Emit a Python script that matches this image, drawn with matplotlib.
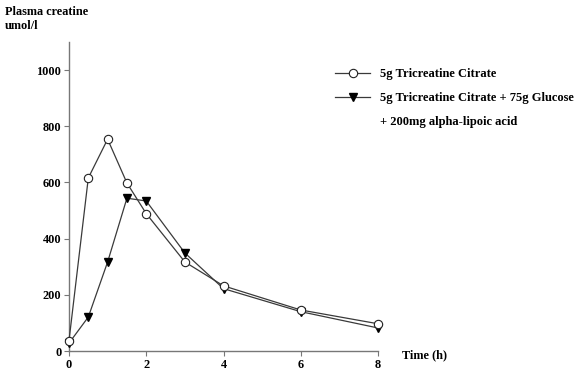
import matplotlib
matplotlib.use("Agg")
import matplotlib.pyplot as plt
from matplotlib.lines import Line2D

time_h = [0, 0.5, 1, 1.5, 2, 3, 4, 6, 8]
tricreatine = [37, 616, 754, 598, 489, 317, 232, 146, 97]
tricreatine_glucose_ala = [28, 121, 317, 544, 534, 349, 222, 140, 82]
x_ticks = [0, 2, 4, 6, 8]
y_ticks = [0, 200, 400, 600, 800, 1000]
label1 = "5g Tricreatine Citrate"
label2 = "5g Tricreatine Citrate + 75g Glucose"
label3 = "+ 200mg alpha-lipoic acid"

plt.rcParams['font.family'] = ['Liberation Serif', 'DejaVu Serif']
plt.rcParams['font.weight'] = 'bold'

fig = plt.figure(figsize=(5.78, 3.76), dpi=100)
ax = fig.add_axes([69/578, 1-351/376, (378-69)/578, (351-42)/376])

lc = '#3a3a3a'
ax.plot(time_h, tricreatine_glucose_ala, color=lc, lw=0.9, marker='v', ms=5.5,
        mfc='black', mec='black', zorder=3)
ax.plot(time_h, tricreatine, color=lc, lw=0.9, marker='o', ms=6,
        mfc='white', mec='#222222', mew=0.8, zorder=4)

ax.set_xlim(0, 8)
ax.set_ylim(0, 1100)
ax.set_xticks(x_ticks)
ax.set_yticks(y_ticks)
ax.set_xticklabels([str(v) for v in x_ticks], fontsize=8.8, fontweight='bold')
ax.set_yticklabels([str(v) for v in y_ticks], fontsize=8.8, fontweight='bold')
for s in ['top', 'right']:
    ax.spines[s].set_visible(False)
for s in ['left', 'bottom']:
    ax.spines[s].set_color('#777777')
    ax.spines[s].set_linewidth(1)
ax.tick_params(direction='out', length=3.5, width=0.8, color='#777777', pad=2)
for ln in ax.lines:
    ln.set_clip_on(False)

fig.text(5/578, 1-6/376, "Plasma creatine\numol/l", ha='left', va='top',
         fontsize=8.8, fontweight='bold', linespacing=1.25)
fig.text(402/578, 1-355/376, "Time (h)", ha='left', va='center',
         fontsize=8.8, fontweight='bold')

handles = [
    Line2D([], [], color=lc, lw=0.9, marker='o', ms=6, mfc='white', mec='#222222', mew=0.8),
    Line2D([], [], color=lc, lw=0.9, marker='v', ms=5.5, mfc='black', mec='black'),
    Line2D([], [], linestyle='none', marker=None),
]
leg = fig.legend(handles, [label1, label2, label3], loc='upper left',
                 bbox_to_anchor=(335/578, 1-68/376), frameon=False,
                 fontsize=9, handlelength=2.8, handletextpad=0.8,
                 labelspacing=0.95, borderaxespad=0, borderpad=0)
for t in leg.get_texts():
    t.set_fontweight('bold')

fig.savefig("out.png", dpi=100)
